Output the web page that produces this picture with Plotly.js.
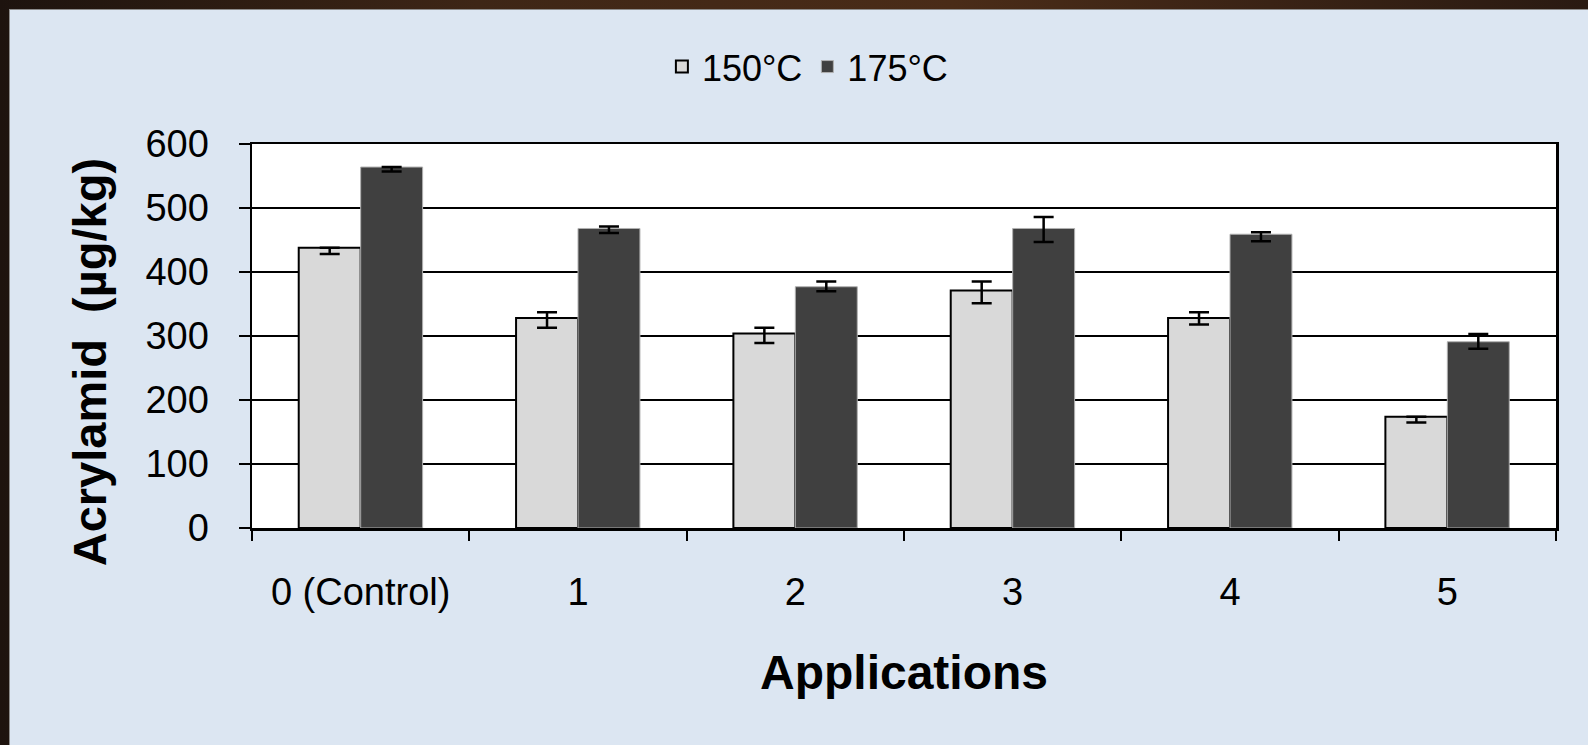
<!DOCTYPE html>
<html>
<head>
<meta charset="utf-8">
<script src="https://cdn.plot.ly/plotly-3.0.1.min.js"></script>
<style>
  html, body { margin: 0; padding: 0; width: 1588px; height: 745px; overflow: hidden;
    background: linear-gradient(90deg, #1d130e 0%, #3e2616 30%, #4a2c18 60%, #2a1a12 100%); }
  #chart { position: absolute; left: 9px; top: 9px; width: 1579px; height: 736px;
    border-top: 1px solid #8c8c8c; border-left: 1px solid #8c8c8c; box-sizing: border-box; }
</style>
</head>
<body>
<div id="chart"></div>
<script>
// Data
const categories = ["0 (Control)", "1", "2", "3", "4", "5"];
const values150 = [438, 328, 304, 371, 328, 174];
const errPlus150 = [0, 9, 9, 14, 9, 0];
const errMinus150 = [10, 15, 15, 20, 10, 9];
const values175 = [564, 468, 377, 468, 459, 291];
const errPlus175 = [0, 3, 8, 18, 3, 12];
const errMinus175 = [7, 7, 7, 21, 11, 11];
const seriesNames = ["150°C", "175°C"];
const yTicks = [0, 100, 200, 300, 400, 500, 600];

const FONT = "Liberation Sans, Arial, Helvetica, sans-serif";

const traces = [
  {
    type: "bar", name: seriesNames[0], x: categories, y: values150,
    marker: { color: "#d9d9d9", line: { color: "#000000", width: 2 } },
    error_y: { type: "data", symmetric: false, array: errPlus150, arrayminus: errMinus150,
               color: "#000000", thickness: 2.5, width: 10 }
  },
  {
    type: "bar", name: seriesNames[1], x: categories, y: values175,
    marker: { color: "#404040", line: { color: "#b0b0b0", width: 1 } },
    error_y: { type: "data", symmetric: false, array: errPlus175, arrayminus: errMinus175,
               color: "#000000", thickness: 2.5, width: 10 }
  }
];

const layout = {
  width: 1579, height: 736,
  paper_bgcolor: "#dce6f2",
  plot_bgcolor: "#ffffff",
  margin: { l: 242, r: 33, t: 134, b: 218, pad: 0 },
  barmode: "group",
  bargap: 0.43,
  bargroupgap: 0,
  font: { family: FONT, color: "#000000", size: 38 },
  showlegend: true,
  legend: {
    orientation: "h", xref: "container", yref: "container",
    x: 0.505, xanchor: "center", y: 0.923, yanchor: "middle",
    font: { family: FONT, size: 36, color: "#000000" },
    bgcolor: "rgba(0,0,0,0)", itemclick: false, traceorder: "normal"
  },
  xaxis: {
    type: "category",
    showline: true, linecolor: "#000000", linewidth: 2.5, mirror: true,
    ticks: "outside", tickson: "boundaries", ticklen: 10, tickwidth: 2, tickcolor: "#000000",
    ticklabelstandoff: 29,
    tickfont: { family: FONT, size: 38, color: "#000000" },
    showgrid: false, zeroline: false, automargin: false,
    title: { text: "<b>Applications</b>", font: { family: FONT, size: 48, color: "#000000" }, standoff: 44 }
  },
  yaxis: {
    range: [0, 600], tickvals: yTicks,
    showline: true, linecolor: "#000000", linewidth: 2.5, mirror: true,
    ticks: "outside", ticklen: 11, tickwidth: 2, tickcolor: "#000000",
    ticklabelstandoff: 22,
    tickfont: { family: FONT, size: 38, color: "#000000" },
    showgrid: true, gridcolor: "#000000", gridwidth: 2.5, zeroline: false, automargin: false,
    title: { text: "<b>Acrylamid  (µg/kg)\u00a0\u00a0\u00a0\u00a0</b>", font: { family: FONT, size: 47, color: "#000000" }, standoff: 24 }
  }
};

Plotly.newPlot("chart", traces, layout, { displayModeBar: false, staticPlot: true });
</script>
</body>
</html>
